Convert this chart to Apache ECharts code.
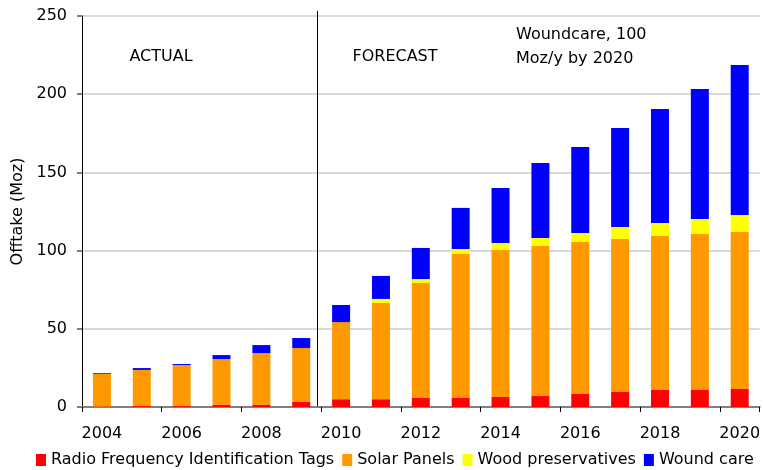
<!DOCTYPE html>
<html>
<head>
<meta charset="utf-8">
<script src="https://cdn.jsdelivr.net/npm/echarts@6/dist/echarts.min.js"></script>
<style>
  html, body { margin: 0; padding: 0; background: #fff; }
  #chart { width: 763px; height: 470px; }
</style>
</head>
<body>
<div id="chart"></div>
<script>
// 年份
var years = ['2004', '2005', '2006', '2007', '2008', '2009', '2010', '2011', '2012',
  '2013', '2014', '2015', '2016', '2017', '2018', '2019', '2020']
// 各类用量 (Moz)
var rfidTags = [0.3, 0.6, 0.6, 1.5, 1.5, 3.4, 5.0, 5.0, 5.8, 5.8, 6.4, 7.0, 8.3, 9.6, 10.9, 10.9, 11.5]
var solarPanels = [20.8, 23.1, 26.2, 29.2, 33.0, 34.3, 49.3, 61.5, 73.5, 92.0, 94.0, 96.0, 97.2, 97.8, 98.4, 99.7, 100.4]
var woodPreservatives = [0, 0, 0, 0, 0, 0, 0, 2.6, 2.5, 3.2, 4.5, 5.1, 5.8, 7.7, 8.3, 9.6, 10.9]
var woundCare = [0.5, 1.2, 0.7, 2.5, 5.1, 6.4, 10.9, 14.7, 19.9, 26.3, 35.2, 47.9, 54.9, 63.3, 72.9, 83.1, 95.9]
var yTicks = { min: 0, max: 250, interval: 50 }

var FONT = 'DejaVu Sans'
var chart = echarts.init(document.getElementById('chart'))

function bar(name, data, color) {
  return {
    name: name,
    type: 'bar',
    stack: 'total',
    barWidth: 18,
    data: data,
    itemStyle: { color: color },
    emphasis: { disabled: true }
  }
}

chart.setOption({
  animation: false,
  textStyle: { fontFamily: FONT },
  grid: { left: 82, right: 1, top: 16, bottom: 63 },
  legend: {
    top: 447,
    left: 31,
    itemWidth: 10,
    itemHeight: 12,
    itemGap: 8,
    icon: 'rect',
    textStyle: { fontFamily: FONT, fontSize: 16, color: '#000' },
    data: ['Radio Frequency Identification Tags', 'Solar Panels', 'Wood preservatives', 'Wound care']
  },
  xAxis: {
    type: 'category',
    data: years,
    axisLine: { lineStyle: { color: '#808080', width: 2 } },
    axisTick: { show: true, length: 5, lineStyle: { color: '#000' } },
    axisLabel: { interval: 1, color: '#000', fontSize: 16, margin: 19, fontFamily: FONT }
  },
  yAxis: {
    type: 'value',
    min: yTicks.min,
    max: yTicks.max,
    interval: yTicks.interval,
    name: 'Offtake (Moz)',
    nameLocation: 'middle',
    nameGap: 56,
    nameTextStyle: { color: '#000', fontSize: 16, fontFamily: FONT },
    axisLine: { show: true, lineStyle: { color: '#000', width: 1 } },
    axisTick: { show: true, inside: false, length: 5, lineStyle: { color: '#808080', width: 2 } },
    axisLabel: { color: '#000', fontSize: 16, margin: 15, fontFamily: FONT },
    splitLine: { lineStyle: { color: '#d9d9d9', width: 2 } }
  },
  series: [
    bar('Radio Frequency Identification Tags', rfidTags, '#ff0000'),
    bar('Solar Panels', solarPanels, '#ff9900'),
    bar('Wood preservatives', woodPreservatives, '#ffff00'),
    bar('Wound care', woundCare, '#0000ff')
  ]
})

// 实际/预测分隔线 和 注释文字
var c09 = chart.convertToPixel({ xAxisIndex: 0 }, '2009')
var c10 = chart.convertToPixel({ xAxisIndex: 0 }, '2010')
var divX = Math.round(c09 + (c10 - c09) * 0.4) + 0.5
var y0 = chart.convertToPixel({ yAxisIndex: 0 }, 0)
var yTop = chart.convertToPixel({ yAxisIndex: 0 }, 250)

chart.setOption({
  graphic: [
    {
      type: 'line',
      shape: { x1: divX, y1: yTop - 5, x2: divX, y2: y0 },
      style: { stroke: '#000', lineWidth: 1 },
      silent: true
    },
    {
      type: 'text',
      x: 161, y: 57,
      style: { text: 'ACTUAL', fontFamily: FONT, fontSize: 16, fill: '#000', align: 'center', verticalAlign: 'middle' }
    },
    {
      type: 'text',
      x: 395, y: 57,
      style: { text: 'FORECAST', fontFamily: FONT, fontSize: 16, fill: '#000', align: 'center', verticalAlign: 'middle' }
    },
    {
      type: 'text',
      x: 516, y: 23,
      style: { text: 'Woundcare, 100\nMoz/y by 2020', fontFamily: FONT, fontSize: 16, lineHeight: 24, fill: '#000', align: 'left', verticalAlign: 'top' }
    }
  ]
})
</script>
</body>
</html>
